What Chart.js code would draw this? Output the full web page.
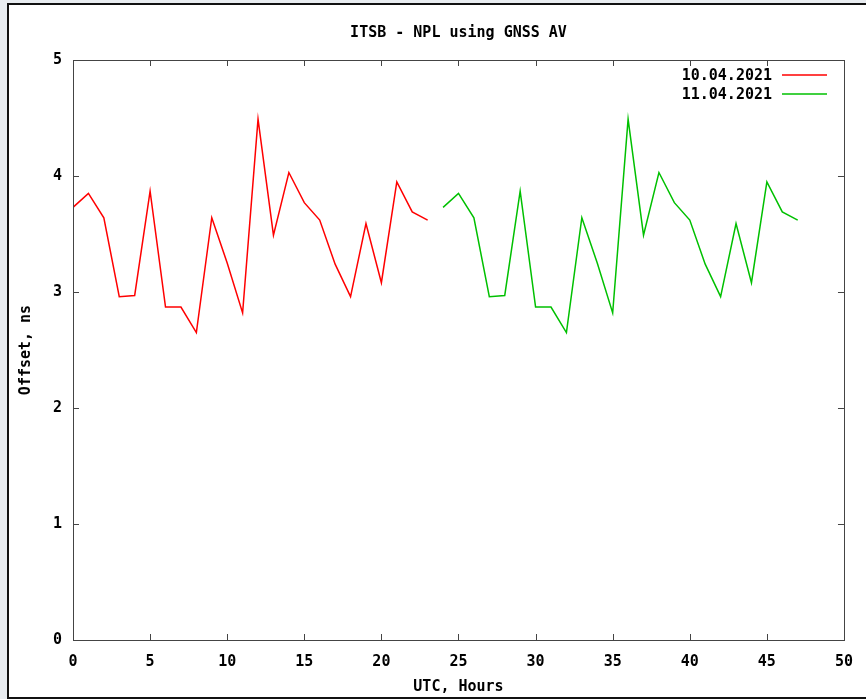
<!DOCTYPE html>
<html>
<head>
<meta charset="utf-8">
<script src="https://cdn.jsdelivr.net/npm/chart.js@4/dist/chart.umd.min.js"></script>
<style>
  html, body { margin: 0; padding: 0; }
  body { width: 866px; height: 699px; background: #e8ecf0; position: relative; overflow: hidden; }
  #frame { position: absolute; left: 7px; top: 3px; width: 900px; height: 692px; border: 2px solid #111; background: #fff; }
  #wrap { position: absolute; left: 0; top: 0; width: 866px; height: 699px; }
</style>
</head>
<body>
<div id="frame"></div>
<div id="wrap"><canvas id="chartOffset" width="866" height="699"></canvas></div>
<script>
// Data
const hours10 = [0, 1, 2, 3, 4, 5, 6, 7, 8, 9, 10, 11, 12, 13, 14, 15, 16, 17, 18, 19, 20, 21, 22, 23];
const offset10 = [3.73, 3.85, 3.64, 2.96, 2.97, 3.87, 2.87, 2.87, 2.65, 3.64, 3.25, 2.82, 4.49, 3.49, 4.03, 3.77, 3.62, 3.24, 2.96, 3.59, 3.08, 3.95, 3.69, 3.62];
const hours11 = [24, 25, 26, 27, 28, 29, 30, 31, 32, 33, 34, 35, 36, 37, 38, 39, 40, 41, 42, 43, 44, 45, 46, 47];
const offset11 = [3.73, 3.85, 3.64, 2.96, 2.97, 3.87, 2.87, 2.87, 2.65, 3.64, 3.25, 2.82, 4.49, 3.49, 4.03, 3.77, 3.62, 3.24, 2.96, 3.59, 3.08, 3.95, 3.69, 3.62];
const seriesLabels = ["10.04.2021", "11.04.2021"];
const seriesColors = ["#ff0000", "#00c000"];
const xTicks = [0, 5, 10, 15, 20, 25, 30, 35, 40, 45, 50];
const yTicks = [0, 1, 2, 3, 4, 5];

const monoFont = "'DejaVu Sans Mono', 'Liberation Mono', monospace";

function toPoints(xs, ys) {
	let arr = [];
	xs.forEach(function(x, i){
		arr.push({ x: x, y: ys[i] });
	});
	return arr;
}

// box + inward ticks (gnuplot style)
const boxTicks = {
	id: "boxTicks",
	afterDraw(chart) {
		const ctx = chart.ctx;
		const a = chart.chartArea;
		const xs = chart.scales.x;
		const ys = chart.scales.y;
		ctx.save();
		ctx.strokeStyle = "#444";
		ctx.lineWidth = 1;
		ctx.strokeRect(Math.round(a.left) + 0.5, Math.round(a.top) + 0.5, Math.round(a.right - a.left), Math.round(a.bottom - a.top));
		ctx.beginPath();
		xTicks.forEach(function(v){
			const px = Math.round(xs.getPixelForValue(v)) + 0.5;
			ctx.moveTo(px, a.bottom); ctx.lineTo(px, a.bottom - 6);
			ctx.moveTo(px, a.top); ctx.lineTo(px, a.top + 6);
		});
		yTicks.forEach(function(v){
			const py = Math.round(ys.getPixelForValue(v)) + 0.5;
			ctx.moveTo(a.left, py); ctx.lineTo(a.left + 6, py);
			ctx.moveTo(a.right, py); ctx.lineTo(a.right - 6, py);
		});
		ctx.stroke();
		ctx.restore();
	}
};

// key at top right: text then line sample
const keyLegend = {
	id: "keyLegend",
	afterDraw(chart) {
		const ctx = chart.ctx;
		ctx.save();
		ctx.font = "bold 15px " + monoFont;
		ctx.textAlign = "right";
		ctx.textBaseline = "middle";
		chart.data.datasets.forEach(function(ds, i){
			const y = 75 + i * 19;
			ctx.fillStyle = "#000";
			ctx.fillText(ds.label, 772, y + 1);
			ctx.strokeStyle = ds.borderColor;
			ctx.lineWidth = 1.5;
			ctx.beginPath();
			ctx.moveTo(782, y);
			ctx.lineTo(827, y);
			ctx.stroke();
		});
		ctx.restore();
	}
};

const chartOffset = document.getElementById("chartOffset");

const offsetChart = new Chart(chartOffset, {
	type: "line",
	data: {
		datasets: [{
			label: seriesLabels[0],
			data: toPoints(hours10, offset10),
			borderColor: seriesColors[0],
			borderWidth: 1.5,
			pointRadius: 0,
			tension: 0,
			fill: false
		}, {
			label: seriesLabels[1],
			data: toPoints(hours11, offset11),
			borderColor: seriesColors[1],
			borderWidth: 1.5,
			pointRadius: 0,
			tension: 0,
			fill: false
		}]
	},
	options: {
		responsive: false,
		animation: false,
		maintainAspectRatio: false,
		layout: {
			padding: { left: 0, right: 21, top: 0, bottom: 0 }
		},
		plugins: {
			legend: { display: false },
			tooltip: { enabled: false },
			title: {
				display: true,
				fullSize: false,
				text: "ITSB - NPL using GNSS AV",
				color: "#000",
				font: { family: monoFont, size: 15, weight: "bold", lineHeight: 1.2 },
				padding: { top: 24, bottom: 18 }
			}
		},
		scales: {
			x: {
				type: "linear",
				min: 0,
				max: 50,
				afterFit: function(scale) { scale.height = 59; },
				afterBuildTicks: function(scale) {
					scale.ticks = xTicks.map(function(v){ return { value: v }; });
				},
				grid: { display: true, drawOnChartArea: false, drawTicks: false },
				border: { display: false },
				ticks: {
					color: "#000",
					padding: 13,
					maxRotation: 0,
					autoSkip: false,
					font: { family: monoFont, size: 15, weight: "bold" }
				},
				title: {
					display: true,
					text: "UTC, Hours",
					color: "#000",
					font: { family: monoFont, size: 15, weight: "bold", lineHeight: 1.2 },
					padding: { top: 0, bottom: 3 }
				}
			},
			y: {
				type: "linear",
				min: 0,
				max: 5,
				afterFit: function(scale) { scale.width = 73; },
				afterBuildTicks: function(scale) {
					scale.ticks = yTicks.map(function(v){ return { value: v }; });
				},
				grid: { display: true, drawOnChartArea: false, drawTicks: false },
				border: { display: false },
				ticks: {
					color: "#000",
					padding: 11,
					autoSkip: false,
					font: { family: monoFont, size: 15, weight: "bold" }
				},
				title: {
					display: true,
					text: "Offset, ns",
					color: "#000",
					font: { family: monoFont, size: 15, weight: "bold", lineHeight: 1.2 },
					padding: { top: 17, bottom: 0 }
				}
			}
		}
	},
	plugins: [boxTicks, keyLegend]
});
</script>
</body>
</html>
